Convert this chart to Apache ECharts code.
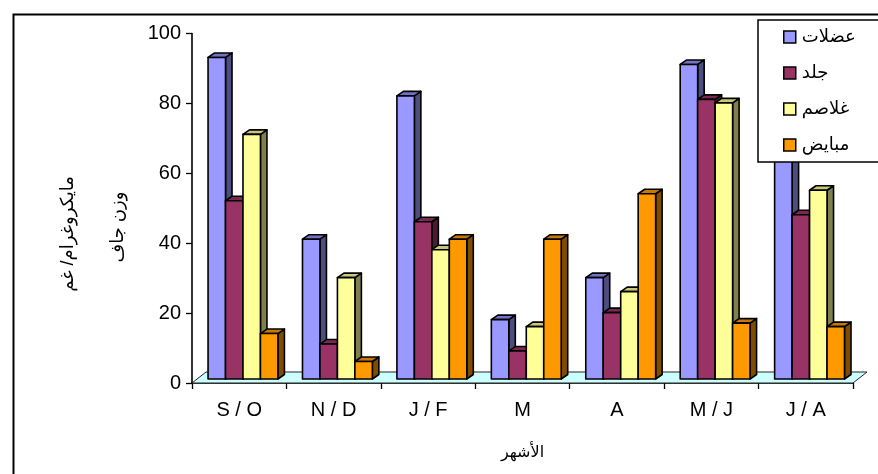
<!DOCTYPE html>
<html>
<head>
<meta charset="utf-8">
<script src="https://cdn.jsdelivr.net/npm/echarts@6/dist/echarts.min.js"></script>
<style>
  html, body { margin: 0; padding: 0; background: #fff; }
  #chart { width: 878px; height: 474px; }
</style>
</head>
<body>
<div id="chart"></div>
<script>
// Months (sampling periods)
const months = ['S / O', 'N / D', 'J / F', 'M', 'A', 'M / J', 'J / A'];

// Concentration per tissue, µg / g dry weight
const muscles   = [92, 40, 81, 17, 29, 90, 66];
const skin      = [51, 10, 45, 8, 19, 80, 47];
const gills     = [70, 29, 37, 15, 25, 79, 54];
const ovaries   = [13, 5, 40, 40, 53, 16, 15];

const seriesNames = ['عضلات', 'جلد', 'غلاصم', 'مبايض'];
const seriesData = [muscles, skin, gills, ovaries];

const yTicks = [0, 20, 40, 60, 80, 100];

// front / top / side shades for each tissue
const palette = [
  { front: '#9999FF', top: '#7373C6', side: '#4D4D80' },
  { front: '#993366', top: '#7A2952', side: '#4D1A33' },
  { front: '#FFFF99', top: '#C8C878', side: '#80804D' },
  { front: '#FF9900', top: '#C87800', side: '#804D00' }
];

const FONT = "'Liberation Sans', 'DejaVu Sans', Arial, sans-serif";
const DEPTH_X = 6.5, DEPTH_Y = -4.5;   // bar depth projection
const LIFT = 4;                          // bars stand slightly behind the floor's front edge
const FLOOR_X = 14, FLOOR_Y = -11;      // floor depth projection

const chart = echarts.init(document.getElementById('chart'), null, { renderer: 'canvas' });

function barRenderer(sIdx) {
  return function (params, api) {
    const idx = api.value(0);
    const val = api.value(1);
    const base = api.coord([idx, 0]);
    const top = api.coord([idx, val]);
    const band = api.size([1, 0])[0];
    const w = band * 0.185;
    const x0 = base[0] - band / 2 + band * 0.17 + sIdx * w;
    const yb = base[1] - LIFT;
    const yt = top[1] - LIFT;
    const c = palette[sIdx];
    const stroke = { stroke: '#000', lineWidth: 1.6, lineJoin: 'round' };
    return {
      type: 'group',
      children: [
        {
          type: 'polygon',
          shape: { points: [[x0 + w, yt], [x0 + w + DEPTH_X, yt + DEPTH_Y], [x0 + w + DEPTH_X, yb + DEPTH_Y], [x0 + w, yb]] },
          style: Object.assign({ fill: c.side }, stroke)
        },
        {
          type: 'polygon',
          shape: { points: [[x0, yt], [x0 + w, yt], [x0 + w + DEPTH_X, yt + DEPTH_Y], [x0 + DEPTH_X, yt + DEPTH_Y]] },
          style: Object.assign({ fill: c.top }, stroke)
        },
        {
          type: 'rect',
          shape: { x: x0, y: yt, width: w, height: yb - yt },
          style: Object.assign({ fill: c.front }, stroke)
        }
      ]
    };
  };
}

const floorSeries = {
  type: 'custom',
  name: 'floor',
  silent: true,
  data: [[0, 0]],
  renderItem: function (params) {
    const cs = params.coordSys;
    const yb = cs.y + cs.height;
    return {
      type: 'polygon',
      shape: { points: [[cs.x, yb], [cs.x + cs.width, yb], [cs.x + cs.width + FLOOR_X, yb + FLOOR_Y], [cs.x + FLOOR_X, yb + FLOOR_Y]] },
      style: { fill: '#CCFFFF', stroke: '#222', lineWidth: 1 }
    };
  }
};

const barSeries = seriesNames.map(function (name, i) {
  return {
    type: 'custom',
    name: name,
    renderItem: barRenderer(i),
    itemStyle: { color: palette[i].front, borderColor: '#000', borderWidth: 1.5 },
    data: seriesData[i].map(function (v, k) { return [k, v]; })
  };
});

chart.setOption({
  backgroundColor: '#fff',
  animation: false,
  textStyle: { fontFamily: FONT, color: '#000' },
  grid: { left: 192, right: 25, top: 33.5, bottom: 91, containLabel: false },
  xAxis: {
    type: 'category',
    data: months,
    boundaryGap: true,
    axisLine: { show: true, lineStyle: { color: '#000', width: 1.6 } },
    axisTick: { show: true, length: 6, lineStyle: { color: '#000', width: 1.3 } },
    axisLabel: { color: '#000', fontSize: 20, fontFamily: FONT, margin: 17 },
    name: 'الأشهر',
    nameLocation: 'middle',
    nameGap: 62,
    nameTextStyle: { color: '#000', fontSize: 16, fontFamily: FONT }
  },
  yAxis: {
    type: 'value',
    min: 0,
    max: 100,
    interval: 20,
    axisLine: { show: true, lineStyle: { color: '#000', width: 1.6 } },
    axisTick: { show: true, length: 6, lineStyle: { color: '#000', width: 1.3 } },
    axisLabel: {
      color: '#000', fontSize: 20, fontFamily: FONT, margin: 11,
      formatter: function (v) { return yTicks.indexOf(v) >= 0 ? String(v) : ''; }
    },
    splitLine: { show: false }
  },
  legend: {
    orient: 'vertical',
    left: 758,
    top: 20,
    data: seriesNames,
    icon: 'rect',
    itemWidth: 12,
    itemHeight: 12,
    itemGap: 18,
    padding: [8, 40, 8, 25],
    backgroundColor: '#fff',
    borderColor: '#000',
    borderWidth: 1.5,
    borderRadius: 0,
    itemStyle: { borderColor: '#000', borderWidth: 1.5 },
    textStyle: { color: '#000', fontSize: 18, lineHeight: 18, fontFamily: FONT, padding: [0, 0, 0, 1] },
    z: 10
  },
  graphic: [
    {
      type: 'rect',
      left: 11, top: 12,
      shape: { width: 900, height: 500 },
      style: { fill: 'none', stroke: '#000', lineWidth: 2 },
      silent: true
    },
    {
      type: 'text',
      x: 68, y: 234,
      rotation: Math.PI / 2,
      style: { text: 'مايكروغرام/ غم', font: '18px ' + FONT, fill: '#000', textAlign: 'center', textVerticalAlign: 'middle' }
    },
    {
      type: 'text',
      x: 118, y: 227,
      rotation: Math.PI / 2,
      style: { text: 'وزن جاف', font: '18px ' + FONT, fill: '#000', textAlign: 'center', textVerticalAlign: 'middle' }
    }
  ],
  series: [floorSeries].concat(barSeries)
});
</script>
</body>
</html>
